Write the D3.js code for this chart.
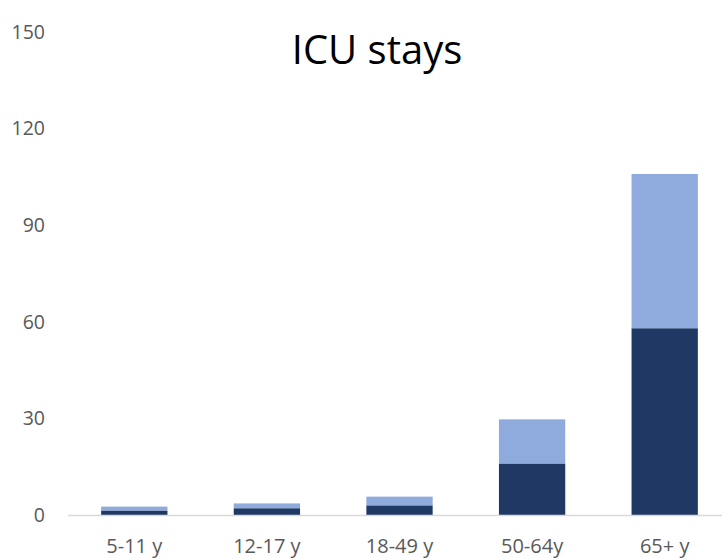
<!DOCTYPE html>
<html><head><meta charset="utf-8">
<script src="https://cdn.jsdelivr.net/npm/d3@7"></script>
<style>body{margin:0;background:#fff}svg{display:block;font-family:"Open Sans","Noto Sans",sans-serif}</style>
</head><body><svg id="c" width="722" height="558"></svg>
<script>
const categories = ["5-11 y","12-17 y","18-49 y","50-64y","65+ y"];
const darkValues = [1.4, 2.1, 3.0, 16.0, 58.0];
const lightValues = [1.2, 1.5, 2.7, 13.7, 47.9];
const yTicks = [0,30,60,90,120,150];
const title = "ICU stays";
const colors = {dark:"#203864", light:"#8FAADC"};

const svg = d3.select("#c");
const x = d3.scaleBand().domain(categories).range([68, 731]).paddingInner(0.5).paddingOuter(0.25);
const y = d3.scaleLinear().domain([0,150]).range([515, 32]);

const stacked = d3.stack().keys(["dark","light"])(categories.map((c,i)=>({cat:c, dark:darkValues[i], light:lightValues[i]})));

svg.append("g").selectAll("g").data(stacked).join("g")
  .attr("fill", d=>colors[d.key])
  .selectAll("rect").data(d=>d).join("rect")
  .attr("x", d=>x(d.data.cat)).attr("width", x.bandwidth())
  .attr("y", d=>y(d[1])).attr("height", d=>y(d[0])-y(d[1]));

svg.append("line").attr("x1",68).attr("x2",731).attr("y1",y(0)+0.5).attr("y2",y(0)+0.5)
  .attr("stroke","#D9D9D9").attr("stroke-width",1.5);

svg.append("g").selectAll("text").data(yTicks).join("text")
  .attr("x",45).attr("y",d=>y(d)).attr("dy","0.35em").attr("text-anchor","end")
  .attr("fill","#595959").attr("font-size",19.5).text(d=>d);

svg.append("g").selectAll("text").data(categories).join("text")
  .attr("x",d=>x(d)+x.bandwidth()/2).attr("y",553).attr("text-anchor","middle")
  .attr("fill","#595959").attr("font-size",20).text(d=>d);

svg.append("text").attr("x",377).attr("y",64).attr("text-anchor","middle")
  .attr("fill","#000").attr("font-size",40).text(title);
</script></body></html>
